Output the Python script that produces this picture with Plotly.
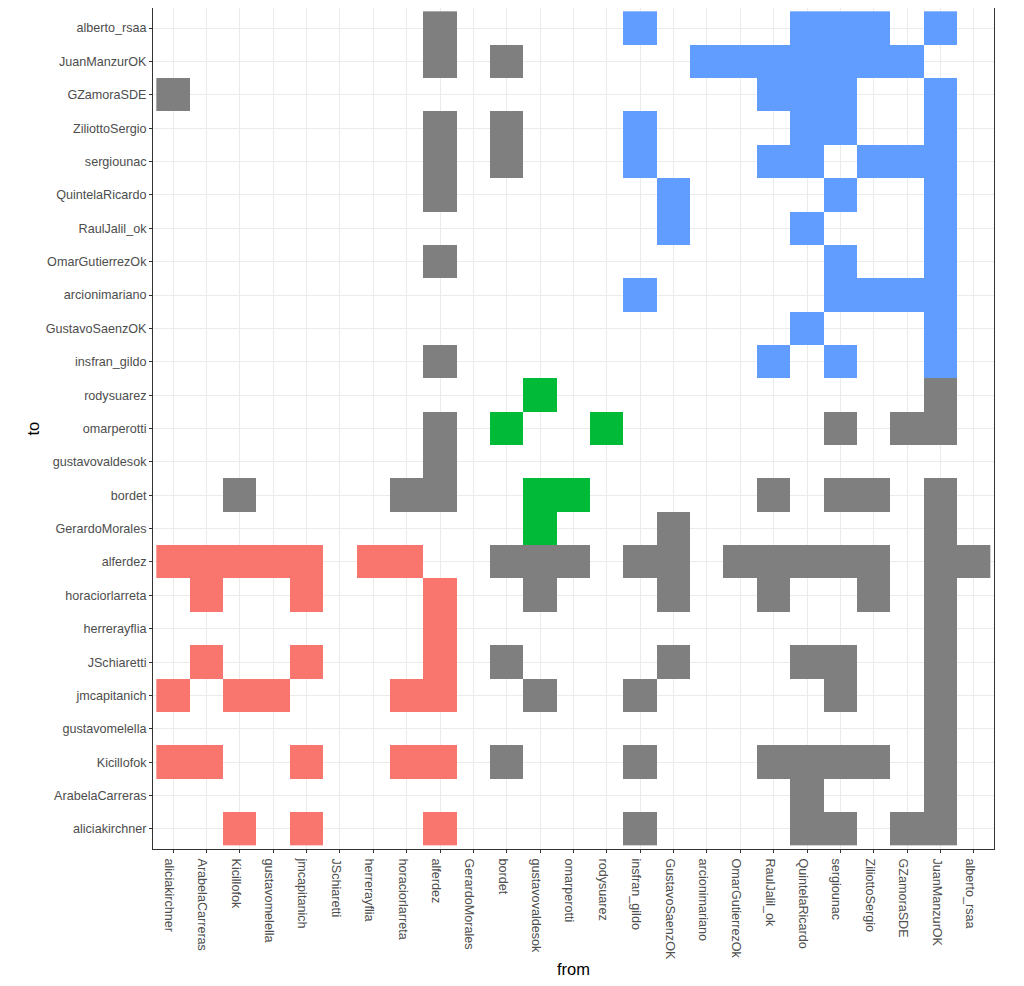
import numpy as np
import plotly.graph_objects as go

# node order (same on both axes)
nodes = ["aliciakirchner", "ArabelaCarreras", "Kicillofok", "gustavomelella",
         "jmcapitanich", "JSchiaretti", "herrerayflia", "horaciorlarreta",
         "alferdez", "GerardoMorales", "bordet", "gustavovaldesok",
         "omarperotti", "rodysuarez", "insfran_gildo", "GustavoSaenzOK",
         "arcionimariano", "OmarGutierrezOk", "RaulJalil_ok", "QuintelaRicardo",
         "sergiounac", "ZiliottoSergio", "GZamoraSDE", "JuanManzurOK",
         "alberto_rsaa"]

# links as (to, [from, ...]) per community; "grey" = links between communities
red_links = [
    ("alferdez", ["aliciakirchner", "ArabelaCarreras", "Kicillofok", "gustavomelella",
                  "jmcapitanich", "herrerayflia", "horaciorlarreta"]),
    ("horaciorlarreta", ["ArabelaCarreras", "jmcapitanich", "alferdez"]),
    ("herrerayflia", ["alferdez"]),
    ("JSchiaretti", ["ArabelaCarreras", "jmcapitanich", "alferdez"]),
    ("jmcapitanich", ["aliciakirchner", "Kicillofok", "gustavomelella",
                      "horaciorlarreta", "alferdez"]),
    ("Kicillofok", ["aliciakirchner", "ArabelaCarreras", "jmcapitanich",
                    "horaciorlarreta", "alferdez"]),
    ("aliciakirchner", ["Kicillofok", "jmcapitanich", "alferdez"]),
]

green_links = [
    ("rodysuarez", ["gustavovaldesok"]),
    ("omarperotti", ["bordet", "rodysuarez"]),
    ("bordet", ["gustavovaldesok", "omarperotti"]),
    ("GerardoMorales", ["gustavovaldesok"]),
]

blue_links = [
    ("alberto_rsaa", ["insfran_gildo", "QuintelaRicardo", "sergiounac",
                      "ZiliottoSergio", "JuanManzurOK"]),
    ("JuanManzurOK", ["arcionimariano", "OmarGutierrezOk", "RaulJalil_ok",
                      "QuintelaRicardo", "sergiounac", "ZiliottoSergio", "GZamoraSDE"]),
    ("GZamoraSDE", ["RaulJalil_ok", "QuintelaRicardo", "sergiounac", "JuanManzurOK"]),
    ("ZiliottoSergio", ["insfran_gildo", "QuintelaRicardo", "sergiounac", "JuanManzurOK"]),
    ("sergiounac", ["insfran_gildo", "RaulJalil_ok", "QuintelaRicardo",
                    "ZiliottoSergio", "GZamoraSDE", "JuanManzurOK"]),
    ("QuintelaRicardo", ["GustavoSaenzOK", "sergiounac", "JuanManzurOK"]),
    ("RaulJalil_ok", ["GustavoSaenzOK", "QuintelaRicardo", "JuanManzurOK"]),
    ("OmarGutierrezOk", ["sergiounac", "JuanManzurOK"]),
    ("arcionimariano", ["insfran_gildo", "sergiounac", "ZiliottoSergio",
                        "GZamoraSDE", "JuanManzurOK"]),
    ("GustavoSaenzOK", ["QuintelaRicardo", "JuanManzurOK"]),
    ("insfran_gildo", ["RaulJalil_ok", "sergiounac", "JuanManzurOK"]),
]

grey_links = [
    ("alberto_rsaa", ["alferdez"]),
    ("JuanManzurOK", ["alferdez", "bordet"]),
    ("GZamoraSDE", ["aliciakirchner"]),
    ("ZiliottoSergio", ["alferdez", "bordet"]),
    ("sergiounac", ["alferdez", "bordet"]),
    ("QuintelaRicardo", ["alferdez"]),
    ("OmarGutierrezOk", ["alferdez"]),
    ("insfran_gildo", ["alferdez"]),
    ("rodysuarez", ["JuanManzurOK"]),
    ("omarperotti", ["alferdez", "sergiounac", "GZamoraSDE", "JuanManzurOK"]),
    ("gustavovaldesok", ["alferdez"]),
    ("bordet", ["Kicillofok", "horaciorlarreta", "alferdez", "RaulJalil_ok",
                "sergiounac", "ZiliottoSergio", "JuanManzurOK"]),
    ("GerardoMorales", ["GustavoSaenzOK", "JuanManzurOK"]),
    ("alferdez", ["bordet", "gustavovaldesok", "omarperotti", "insfran_gildo",
                  "GustavoSaenzOK", "OmarGutierrezOk", "RaulJalil_ok", "QuintelaRicardo",
                  "sergiounac", "ZiliottoSergio", "JuanManzurOK", "alberto_rsaa"]),
    ("horaciorlarreta", ["gustavovaldesok", "GustavoSaenzOK", "RaulJalil_ok",
                         "ZiliottoSergio", "JuanManzurOK"]),
    ("herrerayflia", ["JuanManzurOK"]),
    ("JSchiaretti", ["bordet", "GustavoSaenzOK", "QuintelaRicardo", "sergiounac",
                     "JuanManzurOK"]),
    ("jmcapitanich", ["gustavovaldesok", "insfran_gildo", "sergiounac", "JuanManzurOK"]),
    ("gustavomelella", ["JuanManzurOK"]),
    ("Kicillofok", ["bordet", "insfran_gildo", "RaulJalil_ok", "QuintelaRicardo",
                    "sergiounac", "ZiliottoSergio", "JuanManzurOK"]),
    ("ArabelaCarreras", ["QuintelaRicardo", "JuanManzurOK"]),
    ("aliciakirchner", ["insfran_gildo", "QuintelaRicardo", "sergiounac",
                        "GZamoraSDE", "JuanManzurOK"]),
]

idx = {n: i for i, n in enumerate(nodes)}
z = np.full((len(nodes), len(nodes)), np.nan)
for code, links in enumerate([grey_links, red_links, green_links, blue_links]):
    for to, froms in links:
        for fr in froms:
            z[idx[to], idx[fr]] = code

colors = [[0, "#7F7F7F"], [1 / 3, "#F8766D"], [2 / 3, "#00BA38"], [1, "#619CFF"]]

fig = go.Figure(go.Heatmap(
    x=nodes, y=nodes, z=z, zmin=0, zmax=3,
    colorscale=colors, showscale=False, hoverongaps=False,
))

axis_style = dict(
    type="category", categoryorder="array", categoryarray=nodes,
    range=[-0.6, 24.6], showgrid=True, gridcolor="#EBEBEB", gridwidth=1,
    showline=True, linecolor="#333333", linewidth=1, mirror=True,
    ticks="outside", ticklen=3, tickcolor="#333333", zeroline=False,
    tickfont=dict(size=12.6, color="#4D4D4D"),
)

fig.update_xaxes(**axis_style, tickangle=90, ticklabelshift=-4, ticklabelstandoff=3)
fig.update_yaxes(**axis_style)

fig.add_annotation(text="from", xref="paper", yref="paper", x=0.5, y=0,
                   yshift=-109, yanchor="top", showarrow=False,
                   font=dict(size=16.5, color="black"))
fig.add_annotation(text="to", xref="paper", yref="paper", x=0, y=0.5,
                   xshift=-121, xanchor="center", textangle=-90, showarrow=False,
                   font=dict(size=16.5, color="black"))

fig.update_layout(
    width=1016, height=978,
    margin=dict(l=145, r=30, t=0, b=137),
    plot_bgcolor="white", paper_bgcolor="white",
    font=dict(family="Liberation Sans, Arial, sans-serif"),
)

fig.write_html("out.html")
